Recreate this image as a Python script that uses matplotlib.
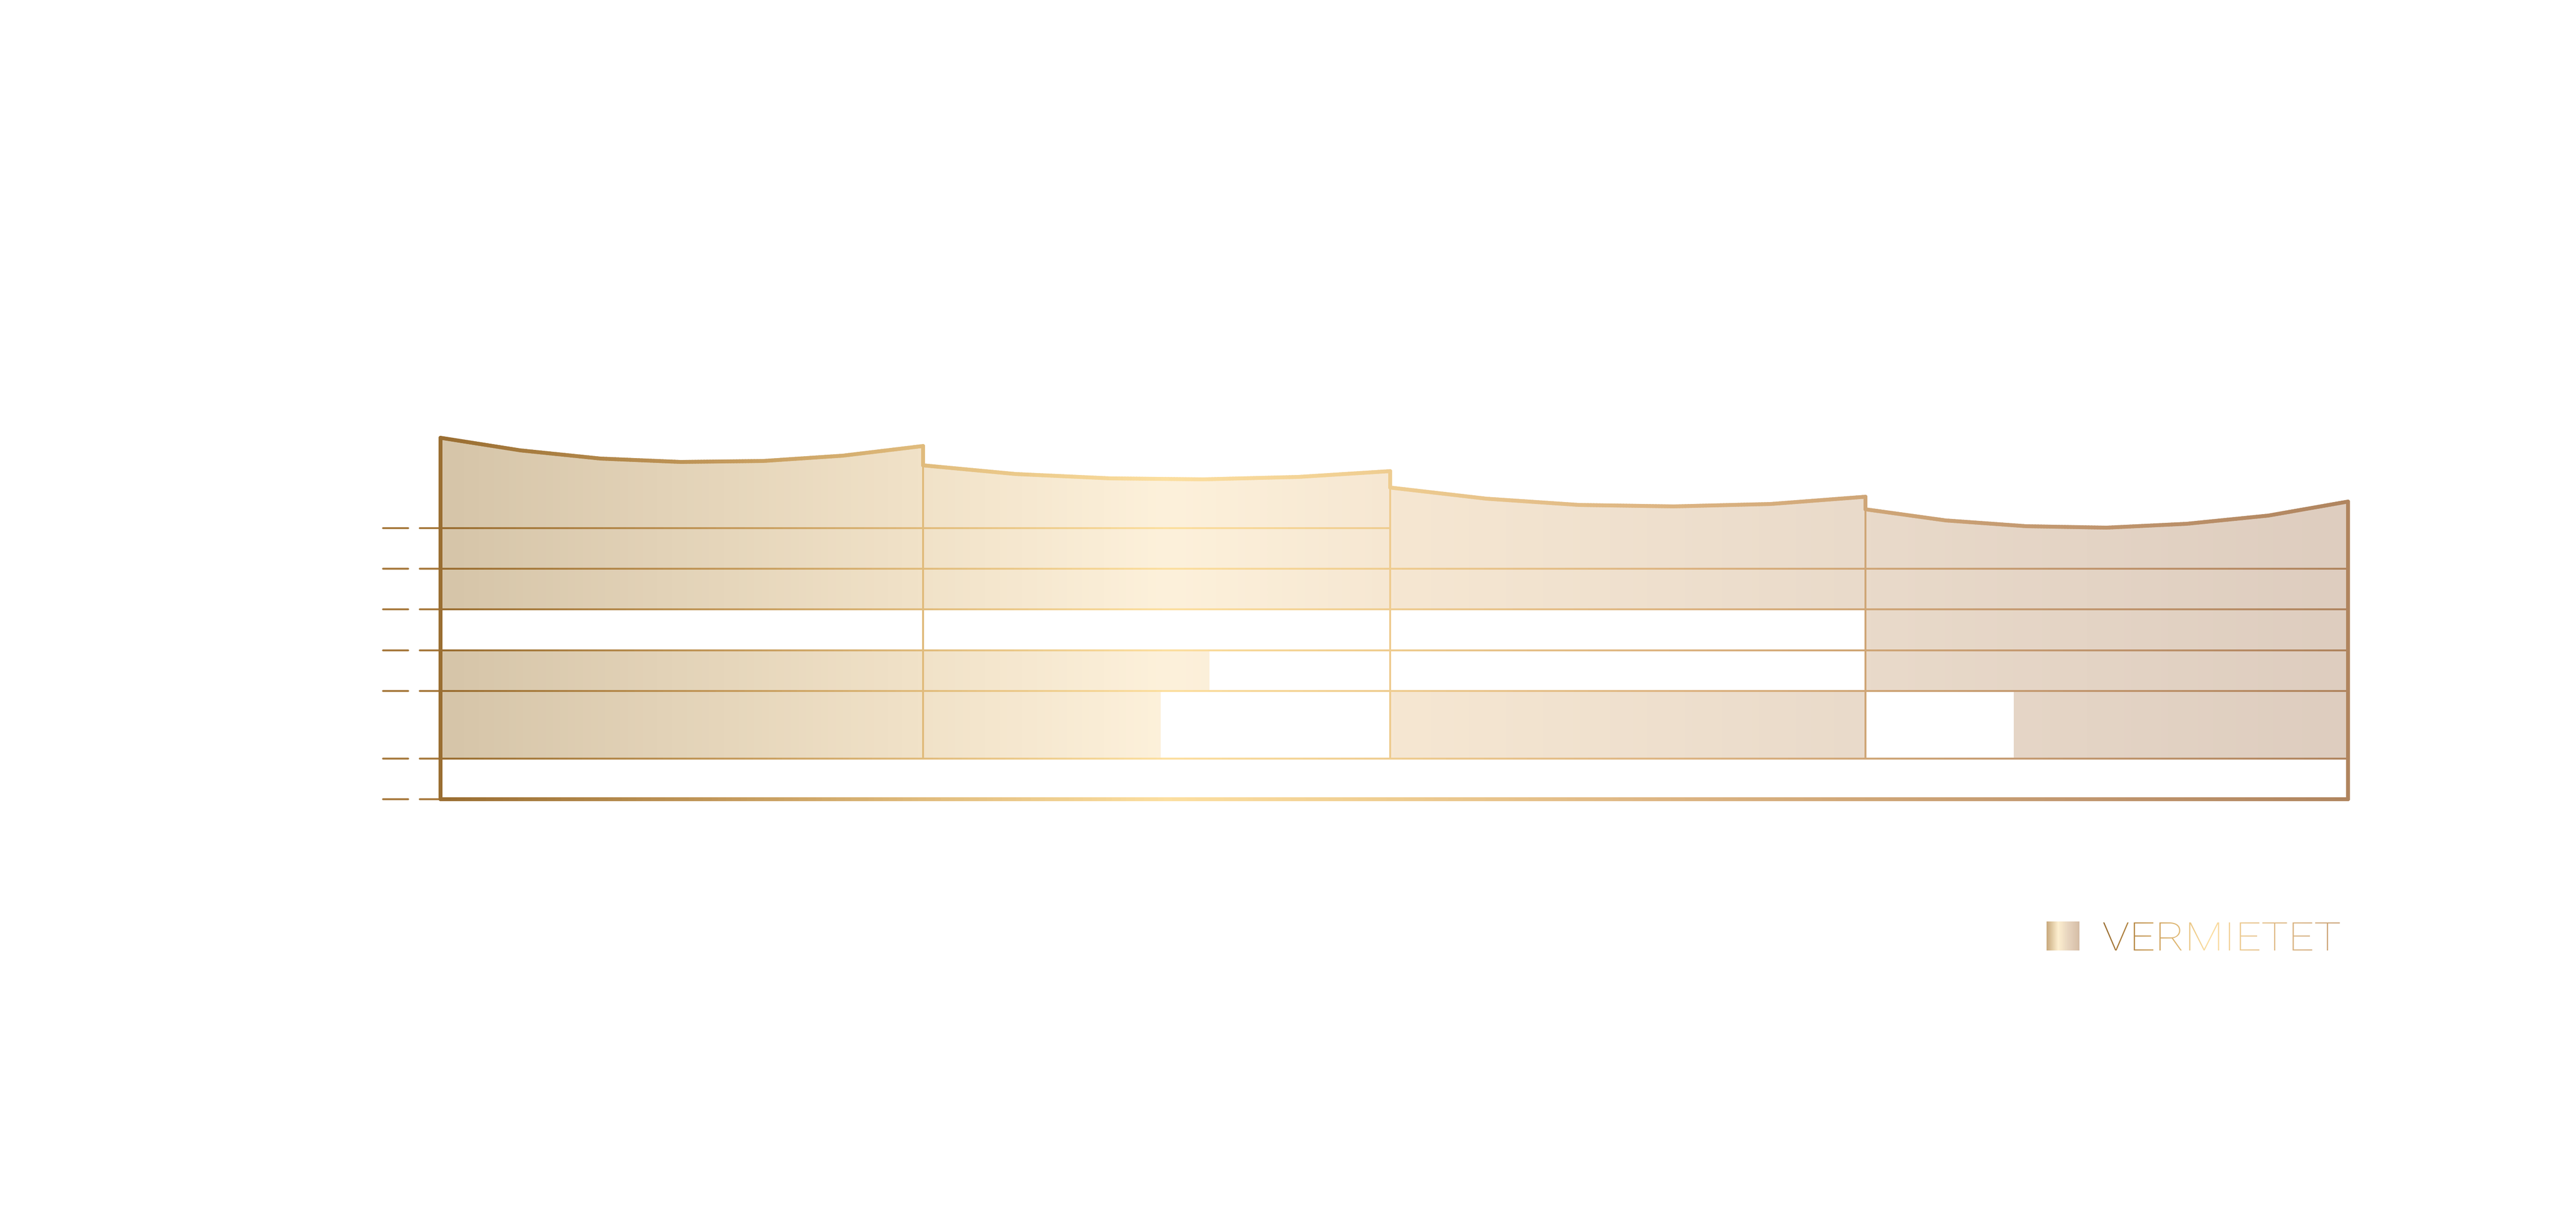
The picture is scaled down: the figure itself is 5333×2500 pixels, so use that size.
import numpy as np
import matplotlib
matplotlib.use('Agg')
import matplotlib.pyplot as plt
from matplotlib.colors import LinearSegmentedColormap
from matplotlib.collections import LineCollection
from matplotlib.patches import PathPatch
from matplotlib.path import Path
from matplotlib.textpath import TextPath
from matplotlib.font_manager import FontProperties
from matplotlib.transforms import Affine2D

# section borders along the facade (x measured from the left wall)
section_x = [0, 999, 1966, 2950, 3949]

# roof outline of each section (x, height above ground)
roof_x = [
  [0, 165, 331, 497, 668, 833, 999],
  [999, 1191, 1387, 1579, 1776, 1966],
  [1966, 2165, 2357, 2553, 2754, 2950],
  [2950, 3116, 3283, 3449, 3615, 3784, 3949],
]
roof_h = [
  [748, 722, 705, 698, 700, 711, 731],
  [691, 673, 664, 662, 667, 679],
  [645, 622, 609, 606, 611, 626],
  [600, 577, 565, 562, 570, 587, 616],
]

# floor slabs and how far each one runs
floor_h = [0, 84, 224, 308, 393, 477, 561]
floor_end = [3949, 3949, 3949, 3949, 3949, 3949, 1966]

# rented spans per storey (storey i sits between floor_h[i] and floor_h[i+1])
# everything above floor_h[len(rented)] is rented up to the roof
rented = [
  [],
  [(0, 1491), (1966, 2950), (3257, 3949)],
  [(0, 1592), (2950, 3949)],
  [(2950, 3949)],
]

legend_label = 'VERMIETET'

W, H = 5333, 2500
X0, Y0 = 912, 1654   # pixel position of left wall / ground line

stroke_cmap = LinearSegmentedColormap.from_list('stroke', [
  (0.0, '#9A6E32'), (0.15, '#C49A5C'), (0.25, '#E0BB7C'), (0.38, '#FCDFA0'),
  (0.5, '#EECC90'), (0.64, '#DDB583'), (0.75, '#CFA677'), (0.85, '#C29870'),
  (1.0, '#B0855F')])
fill_cmap = LinearSegmentedColormap.from_list('fill', [
  (0.0, '#D6C5A9'), (0.25, '#F1E2C8'), (0.38, '#FDF1DB'), (0.5, '#F6E7D2'),
  (0.75, '#E9DACA'), (1.0, '#DECDBF')])
box_cmap = LinearSegmentedColormap.from_list('box', [
  (0.0, '#C8A87C'), (0.35, '#FDEFCF'), (0.65, '#E8D5BF'), (1.0, '#D5BDA6')])
text_cmap = LinearSegmentedColormap.from_list('text', [
  (0.0, '#9A6E32'), (0.2, '#C8984F'), (0.45, '#FDE0A3'), (0.6, '#EAC68C'),
  (1.0, '#C9A074')])

def px(w):
  return w * 72 / 100.0


def gold_line(ax, xs, hs, lw, step=6):
  span = section_x[-1]
  segs, cols = [], []
  for i in range(len(xs) - 1):
    x0, h0, x1, h1 = xs[i], hs[i], xs[i + 1], hs[i + 1]
    n = max(1, int(abs(x1 - x0) / step))
    t = np.linspace(0, 1, n + 1)
    lx = x0 + (x1 - x0) * t
    lh = h0 + (h1 - h0) * t
    for j in range(n):
      segs.append([(lx[j], lh[j]), (lx[j + 1], lh[j + 1])])
      cols.append(stroke_cmap(np.clip((lx[j] + lx[j + 1]) / 2 / span, 0, 1)))
  lc = LineCollection(segs, colors=cols, linewidths=px(lw),
                      capstyle='round', joinstyle='round')
  ax.add_collection(lc)


def roof_line():
  xs, hs = [], []
  for rx, rh in zip(roof_x, roof_h):
    xs += rx
    hs += rh
  return xs, hs


def rect(x0, x1, h0, h1):
  return Path([(x0, h0), (x1, h0), (x1, h1), (x0, h1), (x0, h0)],
              [Path.MOVETO, Path.LINETO, Path.LINETO, Path.LINETO, Path.CLOSEPOLY])


def fill_building(ax):
  xs, hs = roof_line()
  top = floor_h[len(rented)]
  verts = [(section_x[0], top)] + list(zip(xs, hs)) + [(section_x[-1], top), (section_x[0], top)]
  codes = [Path.MOVETO] + [Path.LINETO] * (len(verts) - 2) + [Path.CLOSEPOLY]
  parts = [Path(verts, codes)]
  for i, spans in enumerate(rented):
    for a, b in spans:
      parts.append(rect(a, b, floor_h[i], floor_h[i + 1]))
  patch = PathPatch(Path.make_compound_path(*parts), facecolor='none', edgecolor='none')
  ax.add_patch(patch)
  grad = np.linspace(0, 1, 1024).reshape(1, -1)
  im = ax.imshow(grad, cmap=fill_cmap, extent=(section_x[0], section_x[-1], 0, max(hs) + 10),
                 aspect='auto', origin='lower', interpolation='bilinear')
  im.set_clip_path(patch)


def floors(ax):
  for h, e in zip(floor_h[1:], floor_end[1:]):
    gold_line(ax, [section_x[0], e], [h, h], 4)
  # thin section dividers
  for k in range(1, len(section_x) - 1):
    gold_line(ax, [section_x[k], section_x[k]], [floor_h[1], roof_h[k][0]], 4)
  # level ticks on the left
  for h in floor_h:
    ax.plot([-119, -67], [h, h], color='#A87B40', lw=px(4), solid_capstyle='round')
    ax.plot([-43, 0], [h, h], color='#A87B40', lw=px(4), solid_capstyle='round')


def outline(ax):
  xs, hs = roof_line()
  xs = [section_x[0]] + xs + [section_x[-1], section_x[0]]
  hs = [0] + hs + [0, 0]
  gold_line(ax, xs, hs, 8)


def legend(ax):
  # gradient swatch
  bx0, bx1 = 4237 - X0, 4305 - X0
  by0, by1 = Y0 - 1967, Y0 - 1907
  grad = np.linspace(0, 1, 256).reshape(1, -1)
  ax.imshow(grad, cmap=box_cmap, extent=(bx0, bx1, by0, by1), aspect='auto',
            origin='lower', interpolation='bilinear')
  # label with gold gradient
  fp = FontProperties(family='Roboto', weight='light')
  tp = TextPath((0, 0), legend_label, size=100, prop=fp)
  bb = tp.get_extents()
  tx0, tw, th = 4354 - X0, 490, 58
  tr = Affine2D().translate(-bb.x0, -bb.y0).scale(tw / bb.width, th / bb.height).translate(tx0, by0)
  tpatch = PathPatch(tp, facecolor='none', edgecolor='none', transform=tr + ax.transData)
  ax.add_patch(tpatch)
  im = ax.imshow(grad, cmap=text_cmap, extent=(tx0, tx0 + tw, by0 - 2, by0 + th + 2),
                 aspect='auto', origin='lower', interpolation='bilinear')
  im.set_clip_path(tpatch)


def run():
  fig = plt.figure(figsize=(W / 100, H / 100), dpi=100)
  ax = fig.add_axes([0, 0, 1, 1])
  fill_building(ax)
  floors(ax)
  outline(ax)
  legend(ax)
  ax.set_xlim(-X0, W - X0)
  ax.set_ylim(Y0 - H, Y0)
  ax.axis('off')
  fig.savefig('out.png', dpi=100, facecolor='white')

run()
